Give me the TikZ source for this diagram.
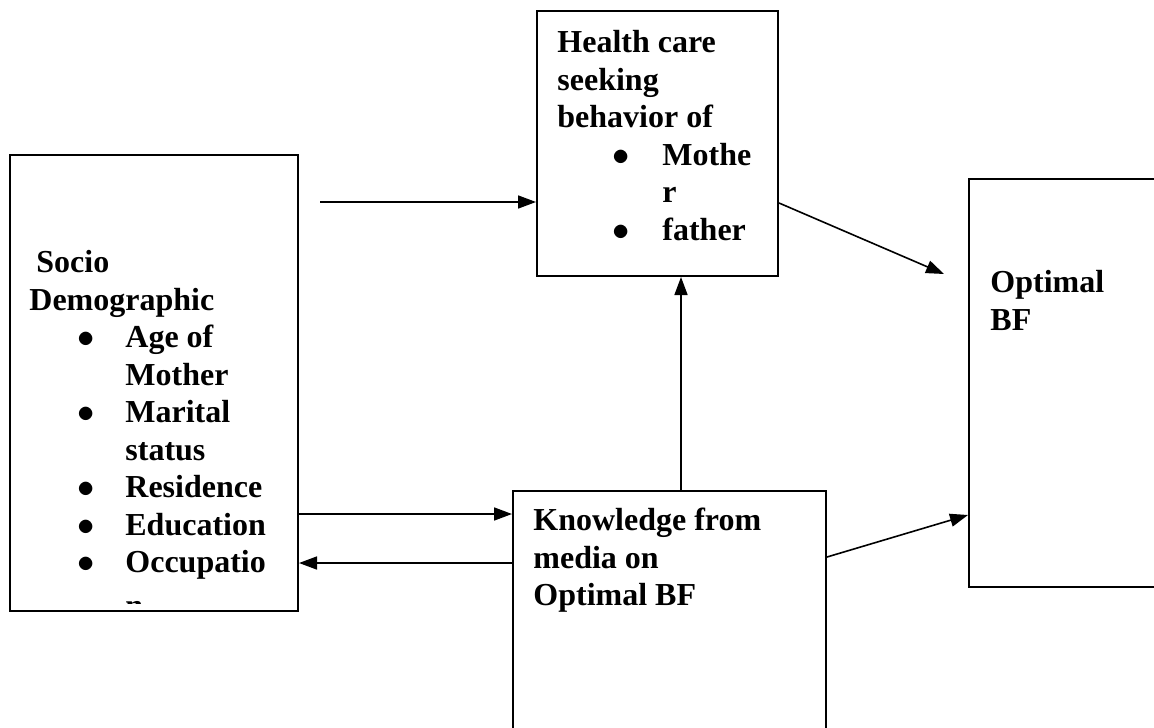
\documentclass[tikz,border=0pt]{standalone}
\usepackage{fontspec}
\setmainfont{Liberation Serif}
\usetikzlibrary{arrows.meta}
\newcommand{\blt}[3]{\hspace*{#1}\makebox[#2][l]{$\bullet$}#3}

\begin{document}
\begin{tikzpicture}[x=0.5pt, y=-0.5pt,
    box/.style={draw, line width=1pt, inner sep=0pt, anchor=north west},
    txt/.style={anchor=north west, inner sep=0pt, align=left,
        font=\fontsize{16}{18.75}\selectfont\bfseries},
    arr/.style={line width=0.8pt, -{Triangle[length=9pt, width=6.5pt]}}]
    \useasboundingbox (0,0) rectangle (1154,727);
    \clip (0,0) rectangle (1154,727);
    % boxes
    \node[box, minimum width=144pt, minimum height=228pt] (socio) at (9,154) {};
    \node[box, minimum width=120.5pt, minimum height=132.5pt] (hlth) at (536,10) {};
    \node[box, minimum width=156.5pt, minimum height=150pt] (know) at (512,490) {};
    \node[box, minimum width=120pt, minimum height=204pt] (opt) at (968,178) {};
    % texts
    \node[txt] (sociotxt) at (29,250) {\hspace*{3.5pt}Socio\\
        Demographic\\
        \blt{24pt}{24pt}{Age of}\\
        \hspace*{48pt}Mother\\
        \blt{24pt}{24pt}{Marital}\\
        \hspace*{48pt}status\\
        \blt{24pt}{24pt}{Residence}\\
        \blt{24pt}{24pt}{Education}\\
        \blt{24pt}{24pt}{Occupatio}};
    \begin{scope}
        \clip (9,154) rectangle (297,603);
        \node[txt, anchor=base west] (socion) at (125,616) {n};
    \end{scope}
    \node[txt] (hlthtxt) at (557,30) {Health care\\
        seeking\\
        behavior of\\
        \blt{27.5pt}{25pt}{Mothe}\\
        \hspace*{52.5pt}r\\
        \blt{27.5pt}{25pt}{father}};
    \node[txt] (knowtxt) at (533,508) {Knowledge from\\ media on\\ Optimal BF};
    \node[txt] (opttxt) at (990,270) {Optimal\\ BF};
    % arrows
    \coordinate (src) at (320,202);
    \coordinate (tip) at ([xshift=-12pt, yshift=-48pt]opt.north west);
    \draw[arr] (src) -- (src -| hlth.west);
    \draw[arr] ([yshift=-96.5pt]hlth.north east) -- (tip);
    \draw[arr] ([xshift=5.75pt]know.north) -- ([xshift=5.75pt]know.north |- hlth.south);
    \coordinate (sout) at ([yshift=-180pt]socio.north east);
    \coordinate (sin) at ([yshift=-204.5pt]socio.north east);
    \draw[arr] (sout) -- (sout -| know.west);
    \draw[arr] (sin -| know.west) -- (sin);
    \draw[arr] ([yshift=-33.5pt]know.north east) -- ([yshift=-168.5pt]opt.north west);
\end{tikzpicture}
\end{document}
